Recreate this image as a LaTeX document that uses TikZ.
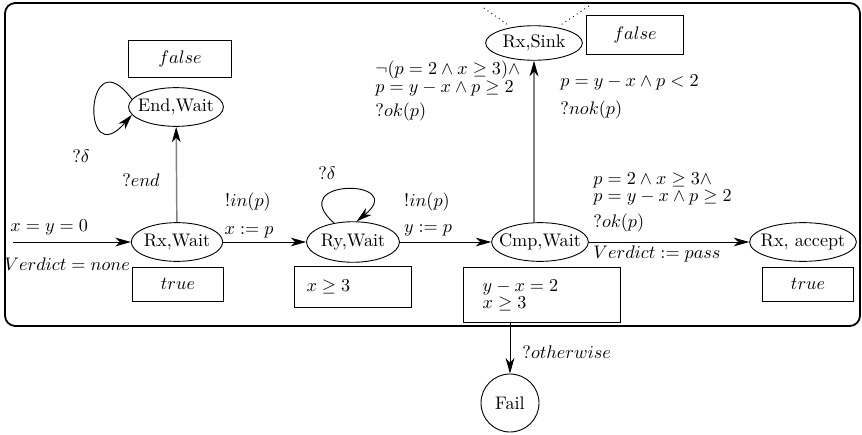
\documentclass[tikz,border=0pt]{standalone}
\usepackage{amsmath}
\usepackage{amssymb}
\usepackage{tikz}
\usetikzlibrary{shapes, positioning}
\usetikzlibrary{arrows.meta}
\newcommand{\locname}[1]{\makebox[0pt]{#1}}

\begin{document}
\begin{tikzpicture}[x=0.55pt, y=-0.55pt, line width=0.5pt]
			\tikzset{
				state/.style={ellipse, draw, inner sep=1pt, minimum height=21.3pt},
				inv/.style={draw, rectangle, inner sep=2pt, minimum height=18.7pt},
				trans/.style={-{Stealth[length=8.5pt, width=4.8pt, inset=2.5pt]}},
				grtrans/.style={draw=gray, line width=0.8pt, -{Stealth[length=8.5pt, width=4.8pt, inset=2.5pt, color=black]}},
				lbl/.style={inner sep=0pt},
				lblock/.style={inner sep=0pt, align=left}
			}
			\useasboundingbox (0,0) rectangle (862,434);
			\draw[line width=1pt, rounded corners=5.7pt] (5,3) rectangle (860,326);
			% locations and invariants
			\node[state, minimum width=52.2pt] (endw) at (176,107) {\locname{End,Wait}};
			\node[inv, minimum width=57pt, minimum height=20.4pt] (endF) at (180,59) {$false$};
			\node[state, minimum width=50.3pt] (rxw) at (177,242) {\locname{Rx,Wait}};
			\node[inv, minimum width=50.3pt] (rxT) at (178,284) {$true$};
			\node[state, minimum width=51.1pt, minimum height=22.3pt] (ryw) at (353,242) {\locname{Ry,Wait}};
			\node[inv, text width=51.1pt, inner xsep=6.6pt, align=left, minimum height=22.8pt] (ryT) at (353,287) {$x \geq 3$};
			\node[state, minimum width=53.2pt] (cmp) at (540,242) {\locname{Cmp,Wait}};
			\node[inv, text width=65.2pt, inner xsep=10.4pt, align=left, minimum height=30.4pt, font=\fontsize{10pt}{9.3pt}\selectfont] (cmpT) at (542,295) {$y - x = 2$\\$x \geq 3$};
			\node[state, minimum width=53.2pt, minimum height=19pt] (sink) at (534,43) {\locname{Rx,Sink}};
			\node[inv, minimum width=53.2pt, minimum height=21.4pt] (sinkF) at (635,35) {$false$};
			\node[state, minimum width=58.7pt] (acc) at (803,242) {\locname{Rx, accept}};
			\node[inv, minimum width=50.3pt] (accT) at (808,284) {$true$};
			\node[circle, draw, minimum size=31.9pt, inner sep=0pt] (fail) at (510,403) {Fail};
			\coordinate (init) at (13,242);
			\coordinate (d1) at (481,6);
			\coordinate (d2) at (589,6);
			% transitions
			\draw[trans] (init) -- (rxw);
			\draw[trans] (rxw) -- (ryw);
			\draw[trans] (ryw) -- (cmp);
			\draw[trans] (cmp) -- (acc);
			\draw[grtrans] (rxw) -- (endw);
			\draw[grtrans] (cmp.north -| sink) -- (sink);
			\draw[trans] (cmpT.south -| fail) -- (fail);
			\draw[trans] (endw.170) .. controls +(-47,-64) and +(-52,60) .. (endw.190);
			\draw[trans] (ryw.135) .. controls +(-51,-45) and +(53,-43) .. (ryw.80);
			\draw[dotted, shorten <=3pt] (sink) -- (d1);
			\draw[dotted, shorten <=3pt] (sink) -- (d2);
			% labels
			\node[lbl, anchor=west] (initA) at (10,227) {$x = y = 0$};
			\node[lbl, anchor=west] (initB) at (4,264) {$Verdict = none$};
			\node[lbl] (endL) at (141,180) {$?end$};
			\node[lbl] (dA) at (81,156) {$?\delta$};
			\node[lbl] (dB) at (327,173) {$?\delta$};
			\node[lbl] (inA) at (248,202) {$!in(p)$};
			\node[lbl] (asA) at (249,232) {$x := p$};
			\node[lbl] (inB) at (427,202) {$!in(p)$};
			\node[lbl] (asB) at (428,230) {$y := p$};
			\node[lblock, anchor=west, font=\fontsize{10pt}{8.3pt}\selectfont] (sinkG) at (375,78.5) {$\neg(p = 2 \wedge x \geq 3)\wedge$\\$p = y - x \wedge p \geq 2$};
			\node[lbl, anchor=west] (okA) at (375,112) {$?ok(p)$};
			\node[lbl, anchor=west] (ltG) at (560,82) {$p = y - x \wedge p < 2$};
			\node[lbl, anchor=west] (nokA) at (560,110) {$?nok(p)$};
			\node[lblock, anchor=west, font=\fontsize{10pt}{9.3pt}\selectfont] (accG) at (593,188.5) {$p = 2 \wedge x \geq 3\wedge$\\$p = y - x \wedge p \geq 2$};
			\node[lbl, anchor=west] (okB) at (593,223) {$?ok(p)$};
			\node[lbl, anchor=west] (passA) at (593,254) {$Verdict := pass$};
			\node[lbl, anchor=west] (othA) at (522,352) {$?otherwise$};
		\end{tikzpicture}
\end{document}
